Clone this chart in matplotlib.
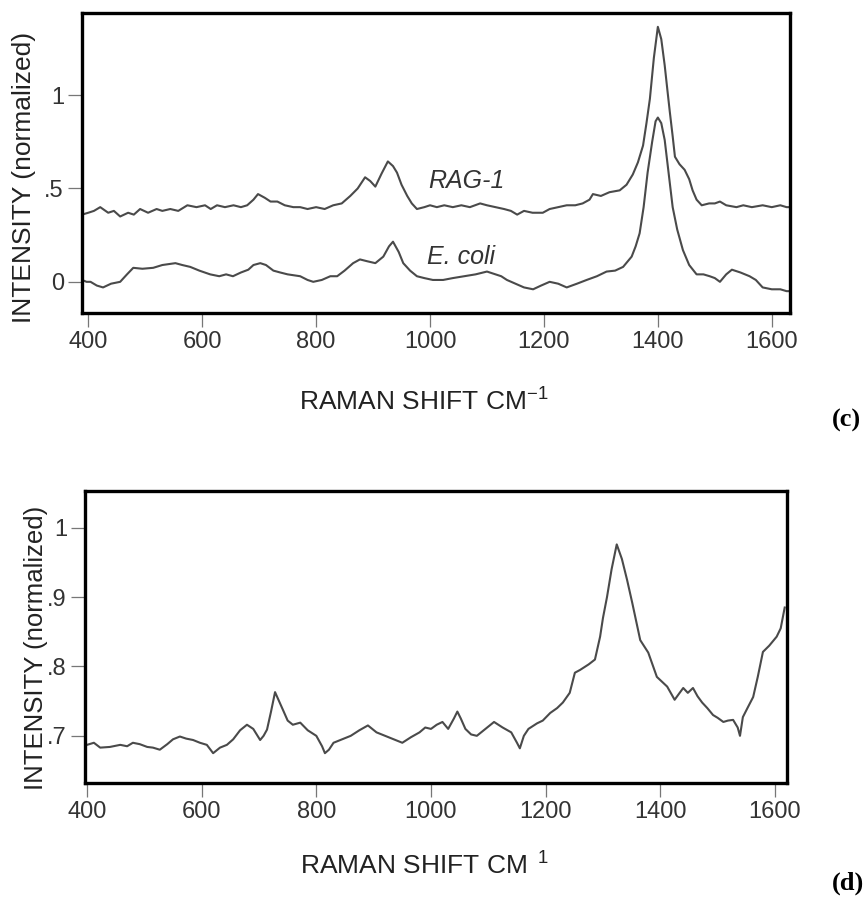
import numpy as np
import matplotlib
matplotlib.use("Agg")
import matplotlib.pyplot as plt

plt.rcParams['font.family'] = ['Liberation Sans', 'DejaVu Sans']
plt.rcParams['mathtext.fontset'] = 'custom'
plt.rcParams['mathtext.rm'] = 'Liberation Sans'
plt.rcParams['mathtext.it'] = 'Liberation Sans:italic'

# (c) RAG-1 vs E. coli spectra
rag_x = [389, 400, 410, 421, 435, 445, 456, 470, 480, 491, 505, 520, 530, 544, 558, 574, 590, 605, 615, 626,
         640, 655, 668, 679, 690, 698, 710, 720, 732, 745, 760, 772, 785, 800, 815, 830, 845, 860, 873, 886,
         895, 904, 915, 926, 935, 942, 950, 960, 968, 977, 990, 1000, 1012, 1025, 1040, 1055, 1070, 1088, 1100, 1115,
         1130, 1142, 1153, 1165, 1180, 1198, 1210, 1225, 1240, 1255, 1268, 1280, 1286, 1300, 1315, 1333, 1345, 1356, 1365, 1374,
         1380, 1386, 1393, 1400, 1406, 1412, 1417, 1421, 1426, 1430, 1438, 1447, 1455, 1461, 1468, 1477, 1490, 1500, 1509, 1520,
         1538, 1550, 1565, 1584, 1600, 1615, 1626, 1632]
rag_y = [0.36, 0.37, 0.38, 0.40, 0.37, 0.38, 0.35, 0.37, 0.36, 0.39, 0.37, 0.39, 0.38, 0.39, 0.38, 0.41, 0.40, 0.41, 0.39, 0.41,
         0.40, 0.41, 0.40, 0.41, 0.44, 0.47, 0.45, 0.43, 0.43, 0.41, 0.40, 0.40, 0.39, 0.40, 0.39, 0.41, 0.42, 0.46, 0.50, 0.56,
         0.54, 0.51, 0.58, 0.645, 0.62, 0.585, 0.52, 0.46, 0.42, 0.39, 0.40, 0.41, 0.40, 0.41, 0.40, 0.41, 0.40, 0.42, 0.41, 0.40,
         0.39, 0.38, 0.36, 0.38, 0.37, 0.37, 0.39, 0.40, 0.41, 0.41, 0.42, 0.44, 0.47, 0.46, 0.48, 0.49, 0.52, 0.575, 0.64, 0.73,
         0.85, 0.98, 1.20, 1.366, 1.30, 1.16, 1.02, 0.91, 0.78, 0.67, 0.63, 0.60, 0.55, 0.49, 0.44, 0.41, 0.42, 0.42, 0.43, 0.41,
         0.40, 0.41, 0.40, 0.41, 0.40, 0.41, 0.40, 0.40]

eco_x = [389, 397, 404, 415, 426, 440, 456, 468, 479, 495, 514, 530, 553, 565, 579, 595, 614, 630, 642, 654,
         668, 681, 690, 702, 712, 725, 737, 750, 772, 785, 795, 810, 825, 837, 850, 865, 877, 890, 904, 918,
         928, 935, 945, 953, 965, 977, 990, 1005, 1023, 1040, 1060, 1080, 1100, 1115, 1125, 1135, 1150, 1165, 1181, 1195,
         1210, 1225, 1240, 1258, 1275, 1293, 1310, 1325, 1339, 1354, 1361, 1368, 1375, 1382, 1390, 1396, 1400, 1406, 1412, 1419,
         1426, 1434, 1444, 1455, 1468, 1480, 1491, 1500, 1509, 1520, 1530, 1545, 1561, 1572, 1584, 1600, 1615, 1626, 1632]
eco_y = [0.01, 0.00, 0.00, -0.02, -0.03, -0.01, 0.00, 0.04, 0.075, 0.07, 0.075, 0.09, 0.10, 0.09, 0.08, 0.06, 0.04, 0.03, 0.04, 0.03,
         0.05, 0.065, 0.09, 0.10, 0.09, 0.06, 0.05, 0.04, 0.03, 0.01, 0.00, 0.01, 0.03, 0.03, 0.06, 0.10, 0.12, 0.11, 0.10, 0.135,
         0.19, 0.215, 0.16, 0.10, 0.06, 0.03, 0.02, 0.01, 0.01, 0.02, 0.03, 0.04, 0.055, 0.04, 0.03, 0.01, -0.01, -0.03, -0.04, -0.02,
         0.00, -0.01, -0.03, -0.01, 0.01, 0.03, 0.055, 0.06, 0.08, 0.135, 0.19, 0.26, 0.40, 0.585, 0.75, 0.86, 0.88, 0.85, 0.76, 0.58,
         0.40, 0.28, 0.17, 0.09, 0.04, 0.04, 0.03, 0.02, 0.00, 0.04, 0.065, 0.05, 0.03, 0.01, -0.03, -0.04, -0.04, -0.05, -0.05]

# (d) single spectrum
d_x = [400, 412, 423, 440, 458, 470, 480, 492, 505, 515, 527, 540, 550, 562, 573, 585, 597, 609, 620, 632,
       644, 655, 667, 679, 690, 702, 708, 714, 721, 728, 735, 742, 750, 759, 772, 785, 800, 810, 815, 822,
       830, 845, 860, 875, 890, 905, 920, 935, 950, 965, 980, 990, 1000, 1010, 1020, 1030, 1040, 1046, 1052, 1060,
       1070, 1080, 1095, 1110, 1125, 1140, 1150, 1155, 1162, 1170, 1185, 1195, 1208, 1220, 1230, 1242, 1251, 1260, 1275, 1286,
       1295, 1300, 1307, 1315, 1324, 1333, 1342, 1351, 1358, 1365, 1379, 1394, 1403, 1412, 1425, 1432, 1440, 1448, 1457, 1465,
       1473, 1482, 1492, 1500, 1510, 1518, 1527, 1535, 1539, 1544, 1552, 1562, 1570, 1579, 1590, 1603, 1610, 1617]
d_y = [0.687, 0.690, 0.683, 0.684, 0.687, 0.685, 0.690, 0.688, 0.684, 0.683, 0.680, 0.688, 0.695, 0.699, 0.696, 0.694, 0.690, 0.687, 0.675, 0.683,
       0.687, 0.695, 0.708, 0.716, 0.710, 0.694, 0.700, 0.709, 0.735, 0.763, 0.750, 0.737, 0.722, 0.716, 0.719, 0.708, 0.700, 0.685, 0.675, 0.680,
       0.690, 0.695, 0.700, 0.708, 0.715, 0.705, 0.700, 0.695, 0.690, 0.698, 0.705, 0.712, 0.710, 0.716, 0.720, 0.710, 0.725, 0.735, 0.725, 0.710,
       0.702, 0.700, 0.710, 0.720, 0.712, 0.705, 0.690, 0.682, 0.700, 0.710, 0.718, 0.722, 0.733, 0.740, 0.748, 0.762, 0.791, 0.795, 0.803, 0.810,
       0.843, 0.870, 0.900, 0.940, 0.976, 0.955, 0.925, 0.892, 0.865, 0.838, 0.820, 0.785, 0.778, 0.771, 0.752, 0.760, 0.769, 0.762, 0.769, 0.757,
       0.748, 0.740, 0.730, 0.726, 0.720, 0.722, 0.723, 0.712, 0.700, 0.727, 0.740, 0.756, 0.785, 0.821, 0.830, 0.843, 0.855, 0.885]

xticks = [400, 600, 800, 1000, 1200, 1400, 1600]
c_yticks = [0, 0.5, 1]
c_ylabels = ['0', '.5', '1']
d_yticks = [0.7, 0.8, 0.9, 1.0]
d_ylabels = ['.7', '.8', '.9', '1']

W, H = 867, 902
fig = plt.figure(figsize=(W / 100, H / 100), dpi=100)
line_col = '#4a4a4a'


def style(ax):
    for s in ax.spines.values():
        s.set_linewidth(2.4)
        s.set_color('black')
    ax.tick_params(direction='out', length=10, width=0.9, color='#777777',
                   labelsize=17, labelcolor='#333333', pad=3)


# top panel
ax1 = fig.add_axes([82 / W, 1 - 313 / H, 708 / W, 300 / H])
ax1.plot(rag_x, rag_y, color=line_col, lw=1.5)
ax1.plot(eco_x, eco_y, color=line_col, lw=1.5)
ax1.set_xlim(389, 1632)
ax1.set_ylim(-0.167, 1.44)
ax1.set_xticks(xticks)
ax1.set_yticks(c_yticks)
ax1.set_yticklabels(c_ylabels)
style(ax1)
ax1.text(996, 0.538, 'RAG-1', style='italic', fontsize=18, color='#333333', va='center')
ax1.text(995, 0.134, 'E. coli', style='italic', fontsize=18, color='#333333', va='center')

# bottom panel
ax2 = fig.add_axes([85 / W, 1 - 783 / H, 702 / W, 292 / H])
ax2.plot(d_x, d_y, color=line_col, lw=1.5)
ax2.set_xlim(396.5, 1621)
ax2.set_ylim(0.632, 1.053)
ax2.set_xticks(xticks)
ax2.set_yticks(d_yticks)
ax2.set_yticklabels(d_ylabels)
style(ax2)

# axis titles (placed in figure pixels)
fig.text(24 / W, 1 - 177 / H, 'INTENSITY (normalized)', rotation=90, ha='center', va='center',
         fontsize=19, color='#222222')
fig.text(36 / W, 1 - 648 / H, 'INTENSITY (normalized)', rotation=90, ha='center', va='center',
         fontsize=18.5, color='#222222')
fig.text(424 / W, 1 - 402 / H, r'RAMAN SHIFT CM$^{-1}$', ha='center', va='center',
         fontsize=19, color='#222222')
fig.text(424 / W, 1 - 866 / H, r'RAMAN SHIFT CM$^{\ \ 1}$', ha='center', va='center',
         fontsize=19, color='#222222')
fig.text(832 / W, 1 - 420 / H, '(c)', ha='left', va='center', fontsize=19,
         family='Liberation Serif', weight='bold')
fig.text(832 / W, 1 - 883 / H, '(d)', ha='left', va='center', fontsize=19,
         family='Liberation Serif', weight='bold')

fig.savefig('out.png', dpi=100)
